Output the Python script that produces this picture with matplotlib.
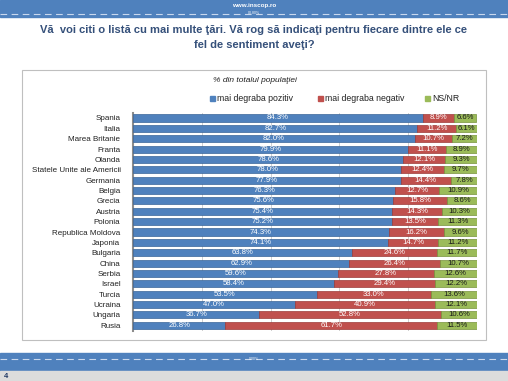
import numpy as np
import matplotlib
matplotlib.use('Agg')
import matplotlib.pyplot as plt
from matplotlib.patches import Rectangle
from matplotlib.lines import Line2D

plt.rcParams['font.family'] = ['Liberation Sans', 'DejaVu Sans']

countries = ['Spania', 'Italia', 'Marea Britanie', 'Franta', 'Olanda',
             'Statele Unite ale Americii', 'Germania', 'Belgia', 'Grecia',
             'Austria', 'Polonia', 'Republica Moldova', 'Japonia', 'Bulgaria',
             'China', 'Serbia', 'Israel', 'Turcia', 'Ucraina', 'Ungaria', 'Rusia']
pozitiv = [84.3, 82.7, 82.0, 79.9, 78.6, 78.0, 77.9, 76.3, 75.6, 75.4, 75.2,
           74.3, 74.1, 63.8, 62.9, 59.6, 58.4, 53.5, 47.0, 36.7, 26.8]
negativ = [8.9, 11.2, 10.7, 11.1, 12.1, 12.4, 14.4, 12.7, 15.8, 14.3, 13.5,
           16.2, 14.7, 24.6, 26.4, 27.8, 29.4, 33.0, 40.9, 52.8, 61.7]
nsnr = [6.6, 6.1, 7.2, 8.9, 9.3, 9.7, 7.8, 10.9, 8.6, 10.3, 11.3,
        9.6, 11.2, 11.7, 10.7, 12.6, 12.2, 13.6, 12.1, 10.6, 11.5]
series = ['mai degraba pozitiv', 'mai degraba negativ', 'NS/NR']
colors = ['#4F81BD', '#C0504D', '#9BBB59']
edges = ['#3A6599', '#9C3B38', '#76923C']

W, H = 508, 381
fig = plt.figure(figsize=(W / 100, H / 100), dpi=100)

def fx(x):
    return x / W

def fy(y):
    return 1 - y / H

# banners
fig.patches.append(Rectangle((0, fy(17)), 1, 17 / H, transform=fig.transFigure,
                             color='#4F81BD', zorder=0))
fig.lines.append(Line2D([0, 1], [fy(14), fy(14)], transform=fig.transFigure,
                        color='#C9D8EE', lw=0.8, ls=(0, (6, 4))))
fig.text(0.5, fy(5.5), 'www.inscop.ro', color='white', fontsize=4.5,
         fontweight='bold', ha='center', va='center')
fig.text(0.5, fy(13.5), '00.80%', color='white', fontsize=2.5,
         ha='center', va='center')
fig.patches.append(Rectangle((0, fy(371)), 1, 18 / H, transform=fig.transFigure,
                             color='#4F81BD', zorder=0))
fig.lines.append(Line2D([0, 1], [fy(358.5), fy(358.5)], transform=fig.transFigure,
                        color='#C9D8EE', lw=0.8, ls=(0, (6, 4))))
fig.text(0.5, fy(358.5), '0.00%', color='white', fontsize=2.5,
         ha='center', va='center')
fig.patches.append(Rectangle((0, 0), 1, 10 / H, transform=fig.transFigure,
                             color='#DCDCDC', zorder=0))
fig.text(fx(6), fy(376.5), '4', color='#1F3864', fontsize=5.5,
         fontweight='bold', ha='center', va='center')

# title
title_col = '#35507A'
fig.text(0.5, fy(30), 'Vă  voi citi o listă cu mai multe ţări. Vă rog să indicaţi pentru fiecare dintre ele ce',
         color=title_col, fontsize=8.0, fontweight='bold', ha='center', va='center')
fig.text(0.5, fy(45), 'fel de sentiment aveţi?',
         color=title_col, fontsize=8.0, fontweight='bold', ha='center', va='center')

# chart frame
fig.patches.append(Rectangle((fx(22), fy(340)), fx(464), 270 / H,
                             transform=fig.transFigure, fill=False,
                             ec='#BFBFBF', lw=0.8))
fig.text(fx(255), fy(80), '% din totalul populaţiei', fontsize=6,
         style='italic', ha='center', va='center', color='#222222')

# legend
for i, (lab, x0) in enumerate(zip(series, [217, 325, 432])):
    fig.patches.append(Rectangle((fx(x0 - 7), fy(101)), fx(5), 5 / H,
                                 transform=fig.transFigure, color=colors[i]))
    fig.text(fx(x0), fy(98.5), lab, fontsize=6.3, ha='left',
             va='center', color='#222222')

ax = fig.add_axes([fx(133), fy(330.5), fx(344), (330.5 - 112.8) / H])
y = np.arange(len(countries))
p = np.array(pozitiv)
n = np.array(negativ)
s = np.array(nsnr)
lefts = [np.zeros_like(p), p, p + n]
vals = [p, n, s]
for i in range(3):
    ax.barh(y, vals[i], left=lefts[i], height=0.68, color=colors[i],
            edgecolor=edges[i], linewidth=0.5, zorder=3)
    for yy, l, v in zip(y, lefts[i], vals[i]):
        ax.text(l + v / 2, yy, f'{v:.1f}%', fontsize=5.6, ha='center',
                va='center', color='white' if i < 2 else '#1a1a1a', zorder=4)

ax.set_xlim(0, 100)
ax.set_ylim(len(countries) - 0.5, -0.5)
ax.set_yticks(y)
ax.set_yticklabels(countries, fontsize=5.8, color='#222222')
ax.tick_params(axis='y', length=0, pad=9)
ax.set_xticks([20, 40, 60, 80, 100])
ax.tick_params(axis='x', length=0, labelbottom=False)
ax.grid(axis='x', color='#C8C8C8', lw=0.6, zorder=0)
for sp in ['top', 'right', 'bottom']:
    ax.spines[sp].set_visible(False)
ax.spines['left'].set_color('#8C8C8C')
ax.spines['left'].set_linewidth(1.5)
ax.set_facecolor('white')

fig.savefig('out.png', dpi=100)
